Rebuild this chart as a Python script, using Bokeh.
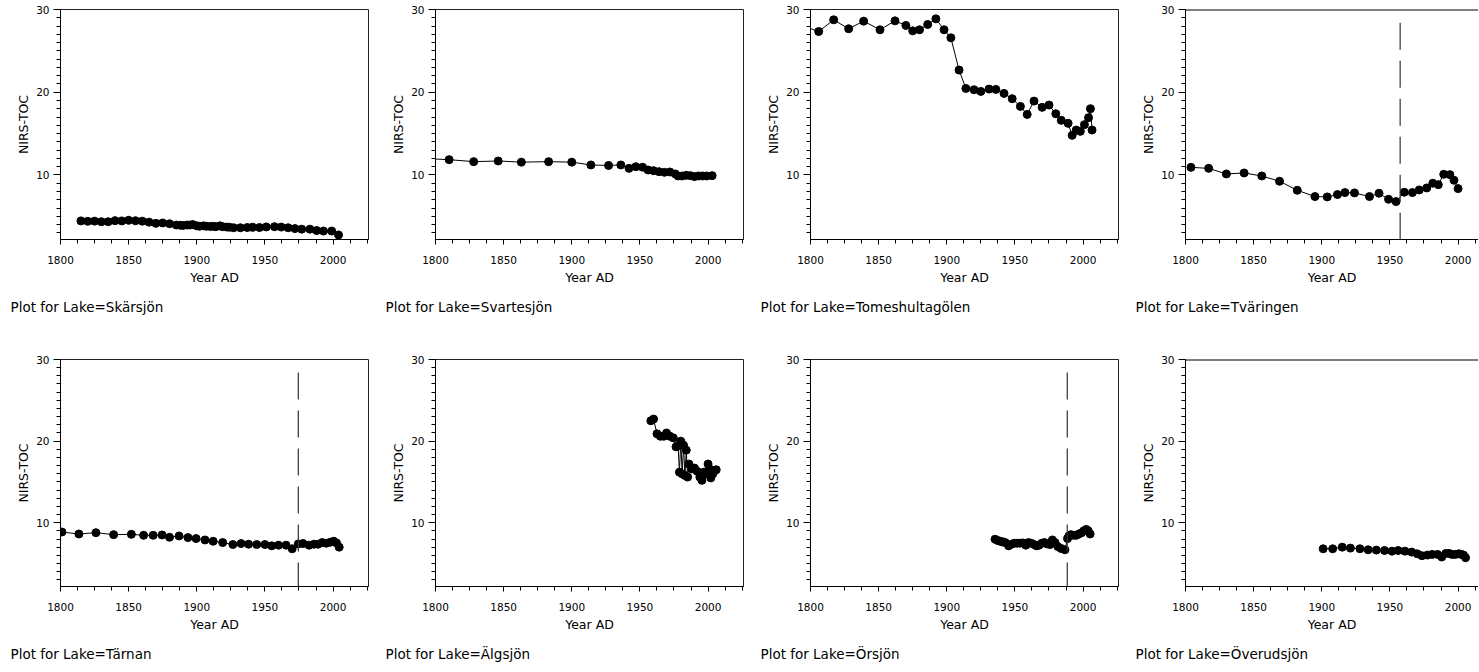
from bokeh.plotting import figure
from bokeh.layouts import column, row
from bokeh.models import Range1d, SingleIntervalTicker, Title, Span
from bokeh.embed import file_html
from bokeh.resources import INLINE

FONT = "DejaVu Sans"

lakes = ["Skärsjön", "Svartesjön", "Tomeshultagölen", "Tväringen",
         "Tärnan", "Älgsjön", "Örsjön", "Överudsjön"]

skarsjon_year = [1815, 1820, 1825, 1830, 1835, 1840, 1845, 1850, 1855, 1860, 1865, 1870, 1875, 1880,
                 1885, 1888, 1890, 1893, 1895, 1897, 1900, 1902, 1905, 1907, 1910, 1912, 1914, 1917,
                 1919, 1922, 1924, 1927, 1932, 1937, 1941, 1946, 1951, 1957, 1962, 1967, 1972, 1977,
                 1983, 1988, 1993, 1999, 2004]
skarsjon_toc = [4.45, 4.40, 4.42, 4.35, 4.35, 4.48, 4.45, 4.52, 4.47, 4.42, 4.30, 4.15, 4.20, 4.10,
                3.95, 3.92, 3.90, 3.95, 3.95, 4.00, 3.85, 3.80, 3.85, 3.80, 3.78, 3.80, 3.75, 3.85,
                3.75, 3.70, 3.68, 3.62, 3.62, 3.65, 3.68, 3.65, 3.72, 3.75, 3.70, 3.62, 3.52, 3.45,
                3.45, 3.28, 3.22, 3.22, 2.75]

svartesjon_year = [1790, 1810, 1828, 1846, 1863, 1883, 1900, 1914, 1927, 1936, 1942, 1947, 1952, 1956,
                   1960, 1964, 1968, 1972, 1976, 1978, 1981, 1984, 1987, 1990, 1993, 1996, 1999, 2003]
svartesjon_toc = [12.0, 11.85, 11.61, 11.69, 11.55, 11.61, 11.55, 11.21, 11.15, 11.21, 10.8, 11.0,
                  10.93, 10.6, 10.52, 10.4, 10.32, 10.36, 10.12, 9.88, 9.88, 9.96, 9.92, 9.80, 9.88,
                  9.88, 9.88, 9.92]

tomeshult_year = [1795, 1806, 1817, 1828, 1839, 1851, 1862, 1870, 1875, 1880, 1886, 1892, 1898, 1903,
                  1909, 1914, 1920, 1925, 1931, 1936, 1942, 1948, 1954, 1959, 1964, 1970, 1975, 1980,
                  1984, 1989, 1992, 1995, 1998, 2001, 2004, 2005.4, 2006.6]
tomeshult_toc = [28.0, 27.34, 28.75, 27.67, 28.59, 27.55, 28.63, 28.07, 27.42, 27.55, 28.19, 28.87,
                 27.55, 26.58, 22.68, 20.46, 20.30, 20.10, 20.38, 20.34, 19.86, 19.22, 18.29, 17.32,
                 18.93, 18.17, 18.45, 17.40, 16.60, 16.24, 14.79, 15.43, 15.27, 16.08, 16.92, 18.01,
                 15.43]

tvaringen_year = [1804, 1817, 1830, 1843, 1856, 1869, 1882, 1895, 1904, 1911.5, 1917, 1924, 1935, 1942,
                  1949, 1954.5, 1960.5, 1966.5, 1971.5, 1977, 1981.5, 1985.5, 1989.5, 1994, 1997, 2000]
tvaringen_toc = [10.92, 10.80, 10.12, 10.24, 9.88, 9.24, 8.15, 7.39, 7.35, 7.63, 7.87, 7.83, 7.39,
                 7.79, 7.06, 6.78, 7.91, 7.87, 8.19, 8.43, 9.0, 8.83, 10.08, 10.04, 9.36, 8.35]

tarnan_year = [1801, 1813.5, 1826, 1839, 1852, 1861, 1868, 1874.5, 1880, 1887, 1893.5, 1899.5, 1906,
               1912, 1919, 1926.5, 1932.5, 1938, 1944, 1950, 1955, 1960, 1965.5, 1970, 1974.5, 1978,
               1982.5, 1986, 1989, 1992, 1995, 1998, 2000.5, 2002.5, 2004.5]
tarnan_toc = [8.87, 8.63, 8.79, 8.55, 8.59, 8.47, 8.47, 8.51, 8.23, 8.39, 8.19, 8.07, 7.90, 7.74,
              7.58, 7.34, 7.46, 7.38, 7.34, 7.34, 7.18, 7.26, 7.26, 6.82, 7.42, 7.46, 7.26, 7.38,
              7.38, 7.58, 7.50, 7.62, 7.74, 7.54, 7.02]

algsjon_year = [1958, 1960, 1962.5, 1965, 1967.5, 1969.5, 1972, 1974.5, 1976.5, 1978, 1979, 1980,
                1981, 1982, 1983, 1984, 1985, 1986, 1988, 1990, 1992, 1994, 1995.5, 1997, 1998.5,
                2000, 2001, 2002, 2003.5, 2005, 2006]
algsjon_toc = [22.5, 22.7, 20.9, 20.6, 20.6, 21.0, 20.6, 20.4, 19.3, 19.4, 16.2, 20.0, 16.0, 19.5,
               15.8, 18.9, 15.6, 17.2, 16.6, 16.7, 16.3, 15.6, 15.2, 16.2, 16.0, 17.2, 16.6, 15.5,
               16.0, 16.4, 16.5]

orsjon_year = [1935.4, 1937.4, 1939.1, 1941, 1942.9, 1945.4, 1947.6, 1949.5, 1951.5, 1953.6, 1955.6,
               1958, 1960, 1961.9, 1964.1, 1965.8, 1967.7, 1969.7, 1971.6, 1973.6, 1975.8, 1977.5,
               1979.4, 1981.4, 1983.8, 1986.7, 1988.6, 1989.6, 1991.1, 1993, 1995, 1996.9, 1998.9,
               2000.6, 2002.3, 2003.7, 2005.2]
orsjon_toc = [7.99, 7.83, 7.74, 7.66, 7.58, 7.18, 7.38, 7.50, 7.50, 7.50, 7.54, 7.26, 7.58, 7.50,
              7.34, 7.18, 7.26, 7.50, 7.58, 7.42, 7.34, 7.90, 7.58, 7.10, 6.86, 6.70, 8.07, 8.39,
              8.55, 8.47, 8.47, 8.63, 8.79, 9.03, 9.19, 9.03, 8.63]

overud_year = [1901, 1908, 1915, 1921, 1928, 1934, 1940, 1946, 1951.5, 1956, 1961, 1966, 1970,
               1973.5, 1977.5, 1981, 1985, 1988, 1991, 1993.5, 1995.5, 1998, 2000.5, 2002.5, 2004,
               2005.5]
overud_toc = [6.82, 6.82, 7.02, 6.90, 6.82, 6.70, 6.66, 6.61, 6.53, 6.61, 6.53, 6.41, 6.21, 5.97,
              6.05, 6.13, 6.13, 5.81, 6.25, 6.25, 6.13, 6.13, 6.21, 6.13, 6.05, 5.73]

# year of the dashed vertical marker per lake (None = no marker)
change_year = [None, None, None, 1957.5, 1974.5, None, 1988.4, None]
change_top = 28.4

series_year = [skarsjon_year, svartesjon_year, tomeshult_year, tvaringen_year,
               tarnan_year, algsjon_year, orsjon_year, overud_year]
series_toc = [skarsjon_toc, svartesjon_toc, tomeshult_toc, tvaringen_toc,
              tarnan_toc, algsjon_toc, orsjon_toc, overud_toc]

x_ticks_major = 50
y_ticks_major = 10
y_low, y_high = 2.2, 30
x_low, x_high = 1800, 2026

FRAME_W = 308
LEFT = 60


def make_panel(i):
    col = i % 4
    rw = i // 4
    last = col == 3
    width = 353 if last else 375
    right = 0 if last else width - LEFT - FRAME_W
    frame_w = width - LEFT - right
    x_end = x_low + (x_high - x_low) * frame_w / float(FRAME_W)
    if rw == 0:
        height, mbb = 350, 111
    else:
        height, mbb = 320, 81
    p = figure(width=width, height=height, output_backend="svg", toolbar_location=None, tools="",
               x_range=Range1d(x_low, x_end), y_range=Range1d(y_low, y_high),
               min_border_left=LEFT, min_border_right=right,
               min_border_top=9, min_border_bottom=mbb)
    p.grid.visible = False
    p.background_fill_color = "white"
    p.border_fill_color = "white"

    xa = p.xaxis[0]
    xa.ticker = SingleIntervalTicker(interval=x_ticks_major, num_minor_ticks=4)
    xa.axis_label = "Year AD"
    ya = p.yaxis[0]
    ya.ticker = SingleIntervalTicker(interval=y_ticks_major, num_minor_ticks=10)
    ya.axis_label = "NIRS-TOC"
    for ax in (xa, ya):
        ax.axis_line_color = "black"
        ax.major_tick_line_color = "black"
        ax.minor_tick_line_color = "black"
        ax.major_tick_in = 0
        ax.minor_tick_in = 0
        ax.major_label_text_font = FONT
        ax.major_label_text_font_size = "10.5px"
        ax.major_label_text_color = "black"
        ax.axis_label_text_font = FONT
        ax.axis_label_text_font_size = "12.5px"
        ax.axis_label_text_font_style = "normal"
        ax.axis_label_text_color = "black"
    xa.major_tick_out = 5
    xa.minor_tick_out = 4
    xa.major_label_standoff = 11
    xa.axis_label_standoff = 3
    ya.major_tick_out = 7
    ya.minor_tick_out = 4
    ya.major_label_standoff = 4
    ya.axis_label_standoff = 2

    if last:
        # frame continues past the page edge: only a top border line, no right border
        p.outline_line_color = None
        p.add_layout(Span(location=y_high, dimension="width", line_color="black", line_width=2))
    else:
        p.outline_line_color = "#222222"

    p.line(series_year[i], series_toc[i], line_color="black", line_width=1)
    p.scatter(series_year[i], series_toc[i], size=8, fill_color="black", line_color="black")
    if change_year[i] is not None:
        p.line([change_year[i], change_year[i]], [change_top, 0], line_color="#333333",
               line_width=1.2, line_dash="27 11")

    t = Title(text="Plot for Lake=" + lakes[i], align="left", text_font=FONT,
              text_font_size="13.5px", text_font_style="normal", text_color="black",
              offset=-50, standoff=18)
    p.add_layout(t, "below")
    return p


panels = [make_panel(i) for i in range(8)]
layout = column(row(*panels[:4]), row(*panels[4:]))

with open("out.html", "w") as f:
    f.write(file_html(layout, INLINE))
